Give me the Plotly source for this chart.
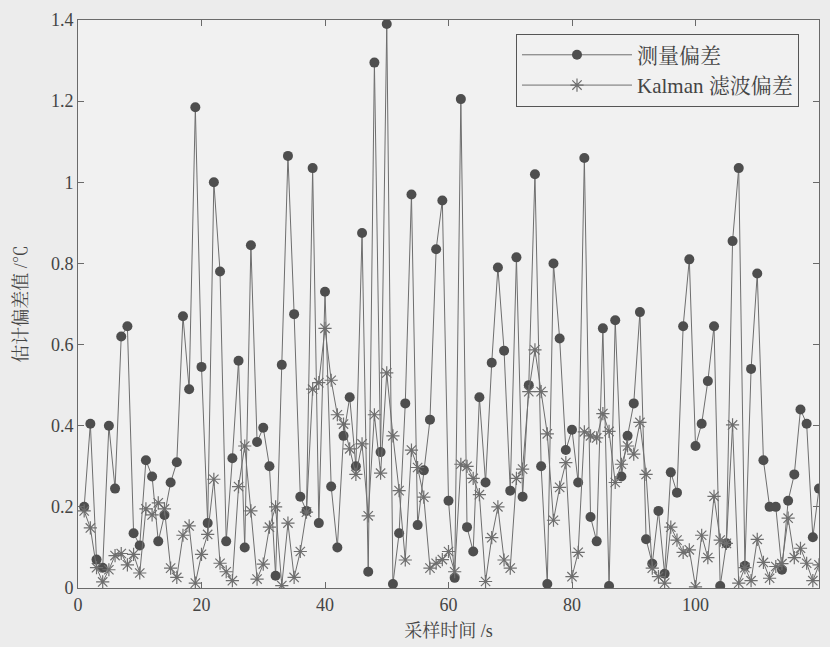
import plotly.graph_objects as go

time_s = list(range(1, 121))

measured = [0.20, 0.405, 0.07, 0.05, 0.40, 0.245, 0.62, 0.645, 0.135, 0.105,
            0.315, 0.275, 0.115, 0.18, 0.26, 0.31, 0.67, 0.49, 1.185, 0.545,
            0.16, 1.0, 0.78, 0.115, 0.32, 0.56, 0.10, 0.845, 0.36, 0.395,
            0.30, 0.03, 0.55, 1.065, 0.675, 0.225, 0.19, 1.035, 0.16, 0.73,
            0.25, 0.10, 0.375, 0.47, 0.30, 0.875, 0.04, 1.295, 0.335, 1.39,
            0.01, 0.135, 0.455, 0.97, 0.155, 0.29, 0.415, 0.835, 0.955, 0.215,
            0.025, 1.205, 0.15, 0.09, 0.47, 0.26, 0.555, 0.79, 0.585, 0.24,
            0.815, 0.225, 0.50, 1.02, 0.30, 0.01, 0.80, 0.615, 0.34, 0.39,
            0.26, 1.06, 0.175, 0.115, 0.64, 0.005, 0.66, 0.275, 0.375, 0.455,
            0.68, 0.12, 0.06, 0.19, 0.035, 0.285, 0.235, 0.645, 0.81, 0.35,
            0.405, 0.51, 0.645, 0.005, 0.11, 0.855, 1.035, 0.055, 0.54, 0.775,
            0.315, 0.20, 0.20, 0.045, 0.215, 0.28, 0.44, 0.405, 0.125, 0.245]

kalman = [0.19, 0.148, 0.05, 0.015, 0.045, 0.08, 0.085, 0.057, 0.083, 0.037,
          0.195, 0.18, 0.21, 0.195, 0.049, 0.026, 0.13, 0.153, 0.012, 0.083,
          0.132, 0.268, 0.061, 0.04, 0.018, 0.25, 0.35, 0.19, 0.022, 0.059,
          0.15, 0.20, 0.006, 0.16, 0.026, 0.09, 0.187, 0.49, 0.506, 0.64,
          0.512, 0.427, 0.404, 0.343, 0.28, 0.355, 0.178, 0.427, 0.283, 0.53,
          0.375, 0.24, 0.069, 0.34, 0.297, 0.224, 0.049, 0.061, 0.07, 0.09,
          0.04, 0.305, 0.30, 0.27, 0.23, 0.016, 0.124, 0.2, 0.069, 0.049,
          0.27, 0.293, 0.484, 0.587, 0.484, 0.38, 0.167, 0.248, 0.309, 0.028,
          0.088, 0.385, 0.375, 0.37, 0.43, 0.386, 0.26, 0.305, 0.35, 0.33,
          0.408, 0.28, 0.049, 0.028, 0.012, 0.15, 0.118, 0.088, 0.094, 0.003,
          0.13, 0.075, 0.226, 0.118, 0.11, 0.402, 0.012, 0.05, 0.018, 0.12,
          0.063, 0.024, 0.053, 0.06, 0.172, 0.075, 0.098, 0.061, 0.018, 0.057]

x_ticks = [0, 20, 40, 60, 80, 100, 120]
y_ticks = [0, 0.2, 0.4, 0.6, 0.8, 1.0, 1.2, 1.4]
y_tick_text = ["0", "0.2", "0.4", "0.6", "0.8", "1", "1.2", "1.4"]

FONT = "Liberation Serif, Times New Roman, Noto Serif CJK SC, Noto Sans CJK SC, serif"
LINE = "#6e6e6e"
MARK = "#4e4e4e"
AX = "#6a6a6a"
TXT = "#444444"

fig = go.Figure()
fig.add_trace(go.Scatter(
    x=time_s, y=measured, mode="lines+markers", name="测量偏差",
    line=dict(color=LINE, width=1),
    marker=dict(symbol="circle", size=10, color=MARK),
))
fig.add_trace(go.Scatter(
    x=time_s, y=kalman, mode="lines+markers", name="Kalman 滤波偏差",
    line=dict(color=LINE, width=1),
    marker=dict(symbol="asterisk-open", size=11, line=dict(color=MARK, width=1.2)),
))

axis_common = dict(showline=True, linecolor=AX, linewidth=1, mirror="allticks",
                   ticks="inside", ticklen=6, tickcolor=AX, showgrid=False,
                   zeroline=False, tickfont=dict(family=FONT, size=18, color=TXT))

fig.update_xaxes(range=[0, 120], tickvals=x_ticks,
                 title=dict(text="采样时间 /s", font=dict(family=FONT, size=18, color=TXT), standoff=10),
                 **axis_common)
fig.update_yaxes(range=[0, 1.4], tickvals=y_ticks, ticktext=y_tick_text,
                 title=dict(text="估计偏差值 /℃", font=dict(family=FONT, size=18, color=TXT), standoff=18),
                 **axis_common)

fig.update_layout(
    width=830, height=647,
    margin=dict(l=78, r=10, t=15, b=55),
    paper_bgcolor="#ececec", plot_bgcolor="#f1f1f1",
    showlegend=True,
    legend=dict(x=0.973, y=0.976, xanchor="right", yanchor="top",
                bgcolor="#f1f1f1", bordercolor="#555", borderwidth=1,
                font=dict(family=FONT, size=21, color=TXT),
                itemwidth=110, tracegroupgap=6),
)

fig.write_html("out.html")
